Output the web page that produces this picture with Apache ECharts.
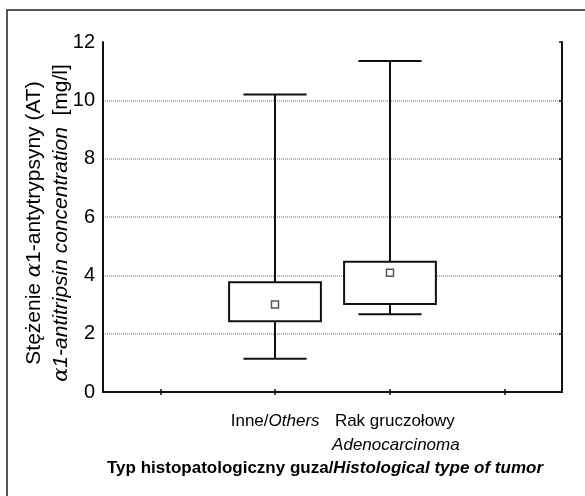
<!DOCTYPE html>
<html><head><meta charset="utf-8">
<script src="https://cdn.jsdelivr.net/npm/echarts@6/dist/echarts.min.js"></script>
<style>html,body{margin:0;padding:0;background:#fff}#c{width:585px;height:496px}</style>
</head><body><div id="c"></div>
<script>
// ---- data ----
const categories = ['', 'Inne/Others', 'Rak gruczołowy/Adenocarcinoma', ''];
const groups = ['Inne/Others', 'Rak gruczołowy/Adenocarcinoma'];
const whiskerLow = [1.14, 2.67];
const boxLow = [2.43, 3.02];
const centers = [3.0, 4.09];
const boxHigh = [3.76, 4.47];
const whiskerHigh = [10.2, 11.35];
const yMin = 0, yMax = 12, yStep = 2;

const FONT = "'Liberation Sans',Arial,sans-serif";
const SERIF = "'DejaVu Serif','Liberation Serif',serif";

const seriesData = groups.map((g, i) => [categories.indexOf(g), whiskerLow[i], boxLow[i], centers[i], boxHigh[i], whiskerHigh[i]]);

function renderItem(params, api) {
  const x = api.value(0);
  const pLo = api.coord([x, api.value(1)]);
  const pQ1 = api.coord([x, api.value(2)]);
  const pMed = api.coord([x, api.value(3)]);
  const pQ3 = api.coord([x, api.value(4)]);
  const pHi = api.coord([x, api.value(5)]);
  const band = api.size([1, 0])[0];
  const bw = band * 0.8, cw = band * 0.55;
  const cx = Math.round(pLo[0]);
  const ls = {stroke: '#111', lineWidth: 2, fill: null};
  return {type: 'group', children: [
    {type: 'line', shape: {x1: cx, y1: pHi[1], x2: cx, y2: pQ3[1]}, style: ls},
    {type: 'line', shape: {x1: cx, y1: pQ1[1], x2: cx, y2: pLo[1]}, style: ls},
    {type: 'line', shape: {x1: cx - cw / 2, y1: pHi[1], x2: cx + cw / 2, y2: pHi[1]}, style: ls},
    {type: 'line', shape: {x1: cx - cw / 2, y1: pLo[1], x2: cx + cw / 2, y2: pLo[1]}, style: ls},
    {type: 'rect', shape: {x: cx - bw / 2, y: pQ3[1], width: bw, height: pQ1[1] - pQ3[1]}, style: {stroke: '#111', lineWidth: 2, fill: '#fff'}},
    {type: 'rect', shape: {x: cx - 3.5, y: pMed[1] - 3.5, width: 7, height: 7}, style: {stroke: '#555', lineWidth: 1.5, fill: '#fff'}}
  ]};
}

const chart = echarts.init(document.getElementById('c'), null, {renderer: 'canvas'});
const tickStyle = {show: true, inside: true, length: 3, alignWithLabel: true, interval: 0, lineStyle: {color: '#111', width: 1.5}};
chart.setOption({
  animation: false,
  backgroundColor: '#fff',
  grid: {left: 103, right: 23, top: 42, bottom: 104},
  title: {
    text: '{b|Typ histopatologiczny guza/}{bi|Histological type of tumor}',
    left: 102, top: 455,
    textStyle: {rich: {
      b: {fontFamily: FONT, fontSize: 17, fontWeight: 'bold', color: '#000'},
      bi: {fontFamily: FONT, fontSize: 17, fontWeight: 'bold', fontStyle: 'italic', color: '#000'}
    }}
  },
  graphic: [{type: 'rect', shape: {x: 7, y: 10, width: 600, height: 520}, style: {stroke: '#222', lineWidth: 1.5, fill: null}, silent: true}],
  xAxis: [{
    type: 'category', data: categories, position: 'bottom',
    axisLine: {lineStyle: {color: '#111', width: 2}},
    axisTick: tickStyle,
    axisLabel: {
      interval: 0, margin: 17, color: '#000', fontFamily: FONT, fontSize: 17, lineHeight: 24,
      formatter: v => v === 'Inne/Others' ? 'Inne/{i|Others}' : (v === 'Rak gruczołowy/Adenocarcinoma' ? '{r|Rak gruczołowy}\n{ri|Adenocarcinoma}' : ''),
      rich: {
        i: {fontFamily: FONT, fontSize: 17, fontStyle: 'italic', color: '#000', lineHeight: 24},
        r: {fontFamily: FONT, fontSize: 17, color: '#000', lineHeight: 24, padding: [0, 0, 0, 10]},
        ri: {fontFamily: FONT, fontSize: 17, fontStyle: 'italic', color: '#000', lineHeight: 24, padding: [0, 0, 0, 12]}
      }
    },
    splitLine: {show: false}
  }, {
    type: 'category', data: categories, position: 'top',
    axisLine: {lineStyle: {color: '#111', width: 2}},
    axisTick: tickStyle, axisLabel: {show: false}, splitLine: {show: false}
  }],
  yAxis: [{
    type: 'value', min: yMin, max: yMax, interval: yStep, position: 'left',
    axisLine: {show: true, lineStyle: {color: '#111', width: 2}},
    axisTick: {show: false},
    axisLabel: {color: '#000', fontFamily: FONT, fontSize: 20, margin: 8},
    splitLine: {show: true, showMinLine: false, showMaxLine: false, lineStyle: {color: '#999', type: [1, 1], width: 1.5}},
    name: 'Stężenie {a|α}1-antytrypsyny (AT)\n{a|α}{i|1-antitripsin concentration}  [mg/l]',
    nameLocation: 'middle', nameGap: 28, nameRotate: 90, nameMoveOverlap: false,
    nameTextStyle: {
      fontFamily: FONT, fontSize: 21, lineHeight: 27, color: '#000', padding: [0, 12, 0, 0],
      rich: {
        a: {fontFamily: SERIF, fontStyle: 'italic', fontSize: 21, lineHeight: 27, color: '#000'},
        i: {fontFamily: FONT, fontStyle: 'italic', fontSize: 21, lineHeight: 27, color: '#000'}
      }
    }
  }, {
    type: 'value', min: yMin, max: yMax, interval: yStep, position: 'right',
    axisLine: {show: true, lineStyle: {color: '#111', width: 2}},
    axisTick: {show: true, inside: true, length: 3, lineStyle: {color: '#111', width: 1.5}},
    axisLabel: {show: false}, splitLine: {show: false}
  }],
  series: [{
    type: 'custom', xAxisIndex: 0, yAxisIndex: 0,
    renderItem: renderItem,
    encode: {x: 0, y: [1, 2, 3, 4, 5]},
    data: seriesData
  }]
});
</script></body></html>
